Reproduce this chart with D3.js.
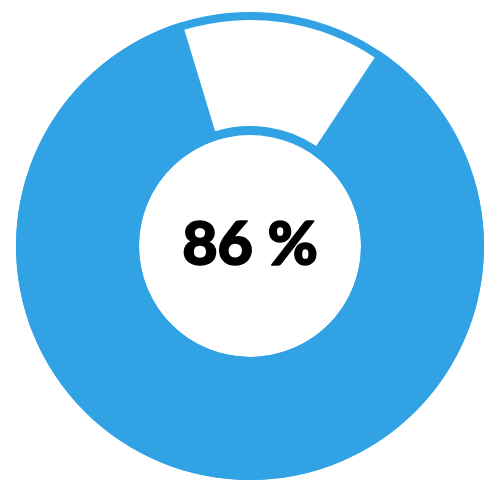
<!DOCTYPE html>
<html>
<head>
<meta charset="utf-8">
<script src="https://cdn.jsdelivr.net/npm/d3@7"></script>
<style>
  html, body { margin: 0; padding: 0; background: #fff; }
  svg { display: block; }
</style>
</head>
<body>
<div id="chart"></div>
<script>
// share of the whole, done vs remaining
const labels = ['done', 'rest'];
const values = [86, 14];
const colors = ['#31a3e5', '#ffffff'];
const centerLabel = '86 %';

const W = 500, H = 500;
const cx = 250, cy = 246;
const R_OUT = 234, R_IN = 111;
const INSET_OUT = 8, INSET_IN = 9;   // blue rim left around the white slice
const START = 33.5 * Math.PI / 180;  // white gap sits just right of 12 o'clock

const svg = d3.select('#chart')
  .append('svg')
  .attr('width', W)
  .attr('height', H);

const g = svg.append('g')
  .attr('transform', `translate(${cx},${cy})`);

const pie = d3.pie()
  .sort(null)
  .value(d => d)
  .startAngle(START)
  .endAngle(START + 2 * Math.PI);

const arcs = pie(values);

// blue track under everything
const track = d3.arc().innerRadius(R_IN).outerRadius(R_OUT);
g.append('path')
  .attr('d', track({ startAngle: 0, endAngle: 2 * Math.PI }))
  .attr('fill', colors[0]);

const arcFull = d3.arc().innerRadius(R_IN).outerRadius(R_OUT);
const arcInset = d3.arc().innerRadius(R_IN + INSET_IN).outerRadius(R_OUT - INSET_OUT);

g.selectAll('.slice')
  .data(arcs)
  .join('path')
  .attr('class', 'slice')
  .attr('d', (d, i) => i === 0 ? arcFull(d) : arcInset(d))
  .attr('fill', (d, i) => colors[i]);

// label in the hole (thin stroke to get a heavier weight)
g.append('text')
  .attr('x', 0)
  .attr('y', 19)
  .attr('text-anchor', 'middle')
  .attr('font-family', 'Lato, sans-serif')
  .attr('font-weight', 900)
  .attr('font-size', '61px')
  .attr('fill', '#000')
  .attr('stroke', '#000')
  .attr('stroke-width', 1.6)
  .attr('stroke-linejoin', 'round')
  .text(centerLabel);
</script>
</body>
</html>
